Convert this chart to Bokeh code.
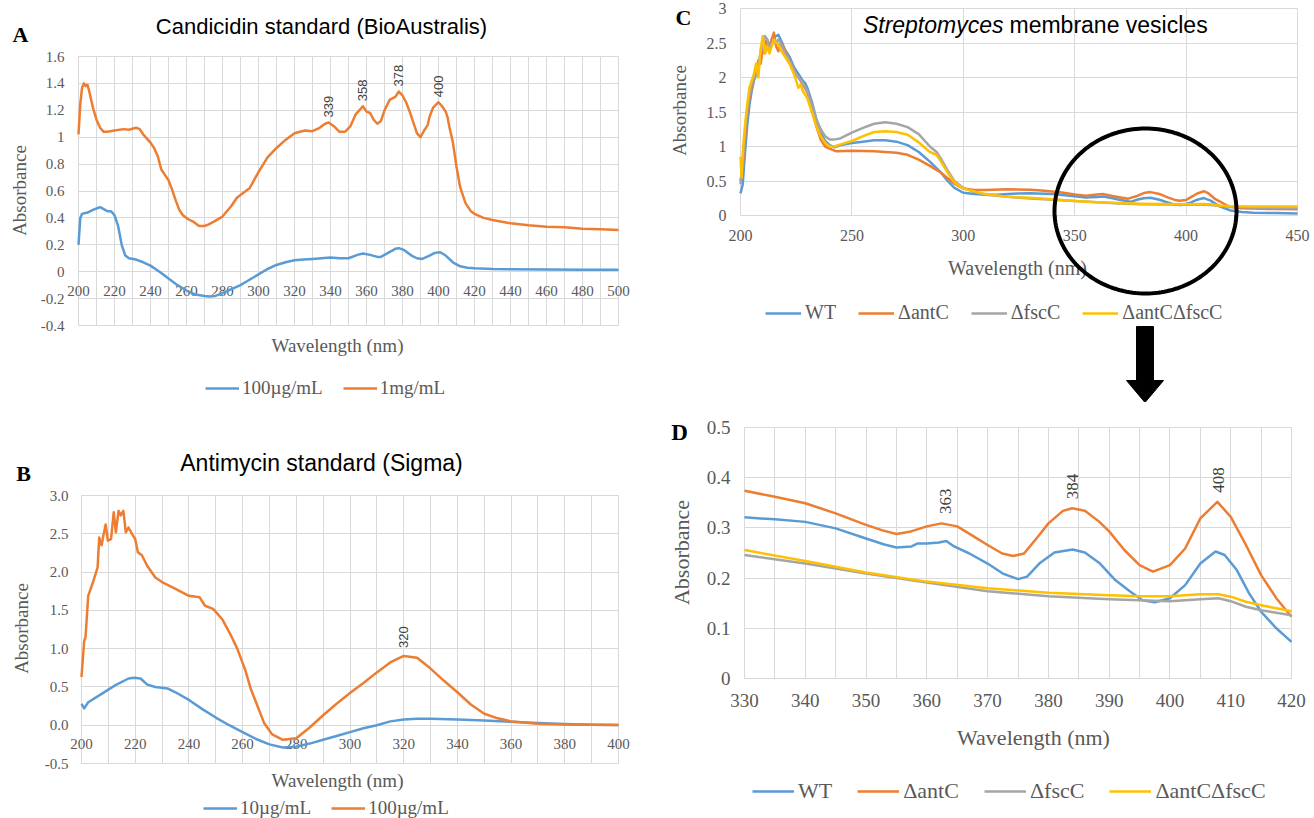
import numpy as np
from bokeh.plotting import figure
from bokeh.models import (LinearAxis, FixedTicker, Legend, LegendItem, Label,
                          PolyAnnotation, NumeralTickFormatter, Range1d)
from bokeh.layouts import row, column
from bokeh.core.properties import value
from bokeh.embed import file_html
from bokeh.resources import INLINE

# ---------------- data ----------------
# Panel A : Candicidin standard (BioAustralis)
A_x_1mg = [200,201,202,203,204,205,206,207,208,210,212,214,216,220,225,228,232,234,236,238,
           240,242,244,246,248,250,252,254,256,258,261,264,267,270,272,275,280,285,288,290,
           295,300,305,310,315,320,323,326,330,334,337,339,342,345,348,351,354,356,358,360,
           362,364,366,368,370,373,376,378,380,382,384,386,388,390,392,394,395,397,400,402,
           404,405,406,408,410,412,415,418,420,425,430,440,450,460,470,480,490,500]
A_y_1mg = [1.02,1.25,1.37,1.40,1.38,1.39,1.34,1.28,1.22,1.13,1.07,1.04,1.04,1.05,1.06,1.055,1.07,1.06,1.02,0.99,
           0.96,0.92,0.86,0.76,0.72,0.68,0.61,0.53,0.46,0.42,0.39,0.37,0.34,0.34,0.35,0.37,0.41,0.49,0.55,0.57,
           0.62,0.74,0.85,0.92,0.98,1.03,1.04,1.05,1.045,1.07,1.10,1.11,1.08,1.04,1.04,1.08,1.17,1.20,1.23,1.19,
           1.18,1.13,1.10,1.12,1.20,1.28,1.30,1.34,1.31,1.26,1.19,1.11,1.03,1.00,1.05,1.09,1.15,1.22,1.26,1.23,
           1.19,1.15,1.08,0.96,0.78,0.63,0.51,0.45,0.43,0.40,0.385,0.36,0.345,0.335,0.33,0.32,0.315,0.31]
A_x_100ug = [200,201,202,205,208,210,212,214,216,218,220,222,224,226,228,232,236,240,245,250,
             255,260,265,270,273,276,280,285,290,295,300,305,310,315,320,325,330,335,340,345,
             350,355,358,362,366,368,372,376,378,381,385,388,391,395,398,401,404,408,412,416,
             420,430,440,460,480,500]
A_y_100ug = [0.20,0.40,0.43,0.44,0.46,0.47,0.48,0.465,0.45,0.45,0.42,0.34,0.20,0.12,0.10,0.09,0.07,0.045,0.0,-0.05,
             -0.10,-0.14,-0.17,-0.18,-0.185,-0.18,-0.16,-0.13,-0.10,-0.06,-0.02,0.02,0.05,0.07,0.085,0.09,0.095,0.10,0.105,0.10,
             0.10,0.125,0.135,0.125,0.11,0.11,0.14,0.17,0.175,0.16,0.12,0.10,0.095,0.12,0.14,0.145,0.12,0.07,0.04,0.03,
             0.025,0.02,0.018,0.016,0.015,0.015]
A_peak_x = [339, 358, 378, 400]
A_peak_y = [1.11, 1.23, 1.34, 1.26]
A_peak_text = ["339", "358", "378", "400"]
A_xticks = [200,220,240,260,280,300,320,340,360,380,400,420,440,460,480,500]
A_yticks = [-0.4,-0.2,0,0.2,0.4,0.6,0.8,1,1.2,1.4,1.6]

# Panel B : Antimycin standard (Sigma)
B_x_100ug = [200,201,201.5,202.5,204.5,206,206.6,207.5,208,209,209.8,211,212,212.8,213.8,214.6,215.6,216.5,217.5,218.8,
             220,221,222.5,224.5,227.5,230,235,240,244,246,249,252.5,256,258,261,263,265,268,271,275,
             280,285,290,295,300,305,310,315,320,325,330,335,340,345,350,355,360,370,380,390,400]
B_y_100ug = [0.63,1.10,1.15,1.69,1.89,2.06,2.45,2.35,2.45,2.62,2.41,2.43,2.78,2.52,2.80,2.74,2.80,2.52,2.58,2.50,
             2.43,2.26,2.22,2.08,1.93,1.87,1.78,1.69,1.67,1.56,1.52,1.38,1.15,1.0,0.72,0.48,0.30,0.03,-0.12,-0.19,
             -0.17,-0.03,0.13,0.28,0.42,0.55,0.69,0.82,0.905,0.88,0.74,0.58,0.43,0.27,0.15,0.09,0.05,0.02,0.01,0.005,0.003]
B_x_10ug = [200,201,202.5,207.5,212.5,217.5,219.5,222,224.5,227.5,232,235,240,245,250,255,260,265,270,275,
            280,285,290,295,300,305,310,315,320,325,330,340,350,360,370,380,390,400]
B_y_10ug = [0.28,0.22,0.30,0.41,0.52,0.61,0.62,0.61,0.53,0.50,0.48,0.43,0.33,0.21,0.10,0.0,-0.09,-0.18,-0.25,-0.29,
            -0.28,-0.24,-0.19,-0.14,-0.09,-0.04,0.0,0.05,0.075,0.085,0.085,0.075,0.06,0.045,0.03,0.015,0.005,0.002]
B_peak_x = [320]
B_peak_y = [0.905]
B_peak_text = ["320"]
B_xticks = [200,220,240,260,280,300,320,340,360,380,400]
B_yticks = [-0.5,0.0,0.5,1.0,1.5,2.0,2.5,3.0]

# Panel C : Streptomyces membrane vesicles
C_x_wt = [200,201,202,203,204,205,206,207,208,209,210,211,212,213,214,215,216,217,218,219,
          220,222,224,226,228,229,230,232,234,236,238,240,242,245,250,255,260,265,270,275,
          280,285,290,293,296,300,305,310,315,320,325,330,340,350,355,360,363,367,370,375,
          378,381,384,388,391,395,398,402,405,408,411,415,420,425,430,440,450]
C_y_wt = [0.32,0.45,0.9,1.3,1.6,1.8,1.95,2.05,2.15,2.3,2.45,2.5,2.55,2.45,2.55,2.58,2.6,2.62,2.55,2.48,
          2.4,2.3,2.15,2.05,1.95,1.92,1.85,1.65,1.4,1.2,1.08,1.02,0.99,1.02,1.05,1.07,1.09,1.09,1.07,1.02,
          0.92,0.78,0.62,0.50,0.40,0.33,0.31,0.30,0.30,0.31,0.32,0.321,0.312,0.279,0.261,0.269,0.274,0.249,0.229,0.198,
          0.229,0.251,0.257,0.229,0.196,0.156,0.152,0.186,0.229,0.253,0.216,0.133,0.073,0.05,0.04,0.035,0.03]
C_x_antC = [200,201,202,203,204,205,206,207,208,209,210,211,212,213,214,215,216,217,218,219,
            220,222,224,226,228,230,232,234,236,238,240,243,250,260,270,275,280,285,290,293,
            296,300,305,310,320,330,335,340,345,350,355,360,363,367,370,374,378,381,384,388,
            392,395,397,400,403,405,408,410,413,415,418,420,425,430,440,450]
C_y_antC = [0.5,0.7,1.1,1.5,1.7,1.85,2.0,2.1,2.25,2.2,2.4,2.35,2.5,2.42,2.55,2.65,2.45,2.38,2.5,2.45,
            2.38,2.25,2.1,2.0,1.9,1.78,1.55,1.3,1.1,1.0,0.97,0.93,0.94,0.93,0.91,0.88,0.81,0.72,0.62,0.54,
            0.46,0.39,0.37,0.37,0.38,0.374,0.362,0.349,0.329,0.306,0.288,0.303,0.31,0.283,0.266,0.244,0.283,0.325,0.339,0.313,
            0.26,0.226,0.213,0.226,0.28,0.319,0.352,0.322,0.24,0.206,0.15,0.123,0.105,0.10,0.095,0.09]
C_x_fscC = [200,201,202,203,204,205,206,207,208,209,210,211,212,213,214,215,216,217,218,219,
            220,222,224,226,228,230,232,234,236,238,240,242,245,250,255,260,265,270,275,280,
            285,288,290,293,296,300,305,310,320,330,340,350,360,370,380,390,400,408,412,415,
            420,430,440,450]
C_y_fscC = [0.45,0.8,1.2,1.55,1.75,1.9,2.0,2.1,2.2,2.35,2.5,2.6,2.55,2.4,2.5,2.55,2.5,2.55,2.5,2.42,
            2.35,2.25,2.1,2.0,1.92,1.8,1.6,1.4,1.25,1.15,1.1,1.1,1.12,1.2,1.27,1.33,1.35,1.33,1.28,1.18,
            1.0,0.92,0.82,0.65,0.50,0.40,0.34,0.30,0.27,0.246,0.229,0.209,0.191,0.174,0.164,0.158,0.154,0.16,0.148,0.136,
            0.126,0.115,0.11,0.11]
C_x_dbl = [200,200.5,201,202,203,204,205,206,207,208,209,210,211,212,213,214,215,216,217,218,
           219,220,222,224,226,227,228,230,232,234,236,238,240,242,245,250,255,260,265,270,
           275,280,285,288,290,293,296,300,305,310,320,330,340,350,360,370,380,390,400,408,
           412,415,420,430,440,450]
C_y_dbl = [0.85,0.55,0.9,1.3,1.6,1.85,1.95,2.05,2.2,2.0,2.4,2.6,2.35,2.45,2.35,2.45,2.55,2.5,2.48,2.4,
           2.35,2.3,2.2,2.05,1.85,1.9,1.8,1.7,1.5,1.3,1.15,1.05,1.0,1.0,1.03,1.08,1.15,1.21,1.22,1.21,
           1.17,1.06,0.92,0.88,0.78,0.62,0.48,0.39,0.35,0.31,0.27,0.256,0.234,0.211,0.193,0.18,0.171,0.166,0.164,0.168,
           0.158,0.146,0.134,0.13,0.13,0.13]
C_xticks = [200,250,300,350,400,450]
C_yticks = [0,0.5,1,1.5,2,2.5,3]

# Panel D : zoom 330-420 nm
D_x_wt = [330,335,340,345,350,353,355,357.5,358.5,360,362,363.2,364.5,367,370,372.5,375,376.5,378.5,381,
          384,386,388.5,391,393.5,395.5,397.5,400,402.5,405,407.5,409,411,413,415,417.5,420]
D_y_wt = [0.321,0.317,0.312,0.299,0.279,0.267,0.261,0.263,0.269,0.269,0.271,0.274,0.263,0.249,0.229,0.209,0.198,0.203,0.229,0.251,
          0.257,0.251,0.229,0.196,0.173,0.156,0.152,0.160,0.186,0.229,0.253,0.246,0.216,0.170,0.133,0.100,0.073]
D_x_antC = [330,335,340,345,350,352.7,355,357.4,360,362.4,365,367.7,370,372.4,374.2,376,378.3,380,382.4,383.9,
            386,388.3,390,392.5,395,397.2,400,402.5,405,407.8,410,412.5,415,417.5,420]
D_y_antC = [0.374,0.362,0.349,0.329,0.306,0.295,0.288,0.293,0.303,0.309,0.303,0.283,0.266,0.249,0.244,0.249,0.283,0.309,0.334,0.339,
            0.334,0.313,0.293,0.256,0.226,0.213,0.226,0.259,0.319,0.352,0.322,0.266,0.206,0.160,0.123]
D_x_fscC = [330,340,350,360,370,380,390,400,405,408,410,412.5,415,420]
D_y_fscC = [0.246,0.229,0.209,0.191,0.174,0.164,0.158,0.154,0.158,0.160,0.154,0.143,0.136,0.126]
D_x_dbl = [330,340,350,360,370,380,390,395,400,405,408,410,412.5,415,420]
D_y_dbl = [0.256,0.234,0.211,0.193,0.180,0.171,0.166,0.164,0.164,0.168,0.168,0.163,0.153,0.146,0.134]
D_peak_x = [363, 384, 408]
D_peak_y = [0.31, 0.339, 0.352]
D_peak_text = ["363", "384", "408"]
D_xticks = [330,340,350,360,370,380,390,400,410,420]
D_yticks = [0,0.1,0.2,0.3,0.4,0.5]

strain_labels = ["WT", "\u0394antC", "\u0394fscC", "\u0394antC\u0394fscC"]

# ---------------- style ----------------
BLUE, ORANGE, GRAY, YELLOW = "#5B9BD5", "#ED7D31", "#A5A5A5", "#FFC000"
GRID = "#D9D9D9"
TXT = "#595959"
SERIF = "Liberation Serif"
SANS = "Liberation Sans"
LW = 2.5


class Panel:
    """A figure whose frame fills the whole canvas; the plot area is a sub-rectangle."""

    def __init__(self, fig, plot, xr, yr):
        fx, fy, W, H = fig
        X0, Y0, X1, Y1 = plot
        self.fx, self.fbot = fx, fy + H
        self.X0, self.Y0, self.X1, self.Y1 = X0, Y0, X1, Y1
        self.xr, self.yr = xr, yr
        sx = (X1 - X0) / (xr[1] - xr[0])
        sy = (Y1 - Y0) / (yr[1] - yr[0])
        self.pw, self.ph = X1 - X0, Y1 - Y0
        self.p = figure(width=W, height=H,
                        x_range=Range1d(xr[0] - (X0 - fx) / sx, xr[1] + (fx + W - X1) / sx),
                        y_range=Range1d(yr[0] - (fy + H - Y1) / sy, yr[1] + (Y0 - fy) / sy),
                        x_axis_type=None, y_axis_type=None, toolbar_location=None,
                        output_backend="svg", min_border=0,
                        min_border_left=0, min_border_right=0, min_border_top=0, min_border_bottom=0)
        self.p.outline_line_color = None
        self.p.background_fill_color = "white"
        self.p.border_fill_color = "white"

    def P(self, X, Y):
        xr, yr = self.xr, self.yr
        return (xr[0] + (X - self.X0) / (self.X1 - self.X0) * (xr[1] - xr[0]),
                yr[0] + (self.Y1 - Y) / (self.Y1 - self.Y0) * (yr[1] - yr[0]))

    def yaxis(self, ticks, fmt, size, standoff=14):
        # axis at the left edge of the plot area: its long ticks are the horizontal grid lines
        ax = LinearAxis(fixed_location=self.xr[0], ticker=FixedTicker(ticks=ticks),
                        formatter=NumeralTickFormatter(format=fmt),
                        axis_line_color=None,
                        major_tick_line_color=GRID, major_tick_in=self.pw, major_tick_out=0,
                        minor_tick_line_color=None, minor_tick_in=0, minor_tick_out=0,
                        major_label_text_font=SERIF, major_label_text_font_size=f"{size}px",
                        major_label_text_color=TXT, major_label_standoff=standoff, level="underlay")
        self.p.add_layout(ax, "left")

    def xgrid_axis(self, ticks, minor, labels, size=15, standoff=11):
        # axis at the bottom of the plot area: its long ticks are the vertical grid lines
        ax = LinearAxis(fixed_location=self.yr[0], ticker=FixedTicker(ticks=ticks, minor_ticks=minor),
                        formatter=NumeralTickFormatter(format="0"),
                        axis_line_color=None,
                        major_tick_line_color=GRID, major_tick_in=self.ph, major_tick_out=0,
                        minor_tick_line_color=GRID if minor else None, minor_tick_in=self.ph, minor_tick_out=0,
                        major_label_text_font=SERIF, major_label_text_font_size=f"{size}px",
                        major_label_text_color=TXT if labels else None,
                        major_label_standoff=standoff, level="underlay")
        self.p.add_layout(ax, "below")

    def xlabel_axis(self, ticks, size, standoff, at=0):
        # Excel style: horizontal axis labels crossing at y = 0
        ax = LinearAxis(fixed_location=at, ticker=FixedTicker(ticks=ticks),
                        formatter=NumeralTickFormatter(format="0"),
                        axis_line_color=None, major_tick_line_color=None, minor_tick_line_color=None,
                        major_tick_in=0, major_tick_out=0, minor_tick_in=0, minor_tick_out=0,
                        major_label_text_font=SERIF, major_label_text_font_size=f"{size}px",
                        major_label_text_color=TXT, major_label_standoff=standoff, level="underlay")
        self.p.add_layout(ax, "below")

    def label(self, X, Y, text, size, font=SERIF, color=TXT, align="center", angle=0.0, style="normal"):
        x, y = self.P(X, Y)
        self.p.add_layout(Label(x=x, y=y, text=text, text_font=font, text_font_size=f"{size}px",
                                text_color=color, text_align=align, text_baseline="middle",
                                angle=angle, text_font_style=style))

    def legend(self, items, X, Ycenter, size, gw, standoff, spacing, h=22):
        # location: bottom-left of legend relative to frame (= figure) bottom-left
        loc = (X - self.fx, self.fbot - (Ycenter + h / 2))
        leg = Legend(items=[LegendItem(label=t, renderers=[r]) for t, r in items],
                     location=loc, orientation="horizontal",
                     label_text_font=SERIF, label_text_font_size=f"{size}px", label_text_color=TXT,
                     glyph_width=gw, glyph_height=20, label_standoff=standoff, spacing=spacing,
                     padding=0, margin=0, border_line_color=None, background_fill_alpha=0,
                     label_height=20)
        self.p.add_layout(leg)

    def peaks(self, xs, ys, texts, size, font, offset):
        self.p.text(x=xs, y=ys, text=texts, angle=np.pi / 2, text_align="left", text_baseline="middle",
                    y_offset=-offset, text_font=value(font), text_font_size=value(f"{size}px"),
                    text_color="#404040")

    def line(self, x, y, color):
        return self.p.line(x, y, line_color=color, line_width=LW, line_join="round")


# ---------------- Panel A ----------------
A = Panel((0, 0, 660, 410), (78, 56, 618, 325), (200, 500), (-0.4, 1.6))
A.yaxis(A_yticks, "0.[0]", 15, standoff=14)
A.xgrid_axis(A_xticks, list(range(200, 501, 10)), labels=False)
A.xlabel_axis(A_xticks, 15, standoff=14)
rA1 = A.line(A_x_100ug, A_y_100ug, BLUE)
rA2 = A.line(A_x_1mg, A_y_1mg, ORANGE)
A.peaks(A_peak_x, A_peak_y, A_peak_text, 13, SANS, 5)
A.label(321, 26, "Candicidin standard (BioAustralis)", 22, font=SANS, color="black")
A.label(20, 34, "A", 22, color="black", style="bold")
A.label(337, 345, "Wavelength (nm)", 19)
A.label(19, 190, "Absorbance", 19, angle=np.pi / 2)
A.legend([("100\u00b5g/mL", rA1), ("1mg/mL", rA2)], 205, 388, 19, 34, 3, 20)

# ---------------- Panel B ----------------
B = Panel((0, 410, 660, 408), (81, 495, 618, 763), (200, 400), (-0.5, 3.0))
B.yaxis(B_yticks, "0.0", 15, standoff=13)
B.xgrid_axis(B_xticks, list(range(200, 401, 10)), labels=False)
B.xlabel_axis(B_xticks, 15, standoff=14)
rB1 = B.line(B_x_10ug, B_y_10ug, BLUE)
rB2 = B.line(B_x_100ug, B_y_100ug, ORANGE)
B.peaks(B_peak_x, B_peak_y, B_peak_text, 13, SANS, 8)
B.label(321, 462, "Antimycin standard (Sigma)", 23, font=SANS, color="black")
B.label(23, 473, "B", 22, color="black", style="bold")
B.label(337, 780, "Wavelength (nm)", 19)
B.label(21, 628, "Absorbance", 19, angle=np.pi / 2)
B.legend([("10\u00b5g/mL", rB1), ("100\u00b5g/mL", rB2)], 203, 808, 19, 34, 3, 20)

# ---------------- Panel C ----------------
C = Panel((660, 0, 654, 402), (740, 8, 1297, 215), (200, 450), (0, 3))
C.yaxis(C_yticks, "0.[0]", 16, standoff=14)
C.xgrid_axis(C_xticks, [], labels=True, size=16, standoff=14)
rC = [C.line(C_x_wt, C_y_wt, BLUE), C.line(C_x_antC, C_y_antC, ORANGE),
      C.line(C_x_fscC, C_y_fscC, GRAY), C.line(C_x_dbl, C_y_dbl, YELLOW)]
C.label(1003, 24, "Streptomyces", 23, font=SANS, color="black", align="right", style="italic")
C.label(1009, 24, "membrane vesicles", 23, font=SANS, color="black", align="left")
C.label(683, 17, "C", 22, color="black", style="bold")
C.label(1017, 267, "Wavelength (nm)", 20)
C.label(679, 110, "Absorbance", 19, angle=np.pi / 2)
C.legend(list(zip(strain_labels, rC)), 765, 313, 20, 36, 4, 22)
# circle highlighting the 330-420 nm region
cx, cy = C.P(1145, 210.5)
ex, _ = C.P(1145 + 91, 210.5)
_, ey = C.P(1145, 210.5 - 82.5)
th = np.linspace(0, 2 * np.pi, 181)
C.p.add_layout(PolyAnnotation(xs=list(cx + (ex - cx) * np.cos(th)), ys=list(cy + (ey - cy) * np.sin(th)),
                              xs_units="data", ys_units="data", fill_color=None, fill_alpha=0,
                              line_color="black", line_alpha=1, line_width=4))
# block arrow pointing to panel D
arrow_px = [(1136, 326), (1153, 326), (1153, 380), (1163, 380), (1144.5, 402), (1126, 380), (1136, 380)]
axs, ays = zip(*[C.P(X, Y) for X, Y in arrow_px])
C.p.add_layout(PolyAnnotation(xs=list(axs), ys=list(ays), xs_units="data", ys_units="data",
                              fill_color="black", fill_alpha=1, line_color="black", line_alpha=1,
                              line_width=1))

# ---------------- Panel D ----------------
D = Panel((660, 402, 654, 416), (744, 427, 1291, 678), (330, 420), (0, 0.5))
D.yaxis(D_yticks, "0.[0]", 19, standoff=14)
D.xgrid_axis(D_xticks, list(range(330, 421, 5)), labels=True, size=19, standoff=15)
rD = [D.line(D_x_wt, D_y_wt, BLUE), D.line(D_x_antC, D_y_antC, ORANGE),
      D.line(D_x_fscC, D_y_fscC, GRAY), D.line(D_x_dbl, D_y_dbl, YELLOW)]
D.peaks(D_peak_x, D_peak_y, D_peak_text, 17, SERIF, 9)
D.label(679, 432, "D", 23, color="black", style="bold")
D.label(1033, 737, "Wavelength (nm)", 22)
D.label(681, 552, "Absorbance", 22, angle=np.pi / 2)
D.legend(list(zip(strain_labels, rD)), 752, 793, 22, 42, 4, 25)

layout = row(column(A.p, B.p, spacing=0), column(C.p, D.p, spacing=0), spacing=0)
open("out.html", "w").write(file_html(layout, INLINE))
